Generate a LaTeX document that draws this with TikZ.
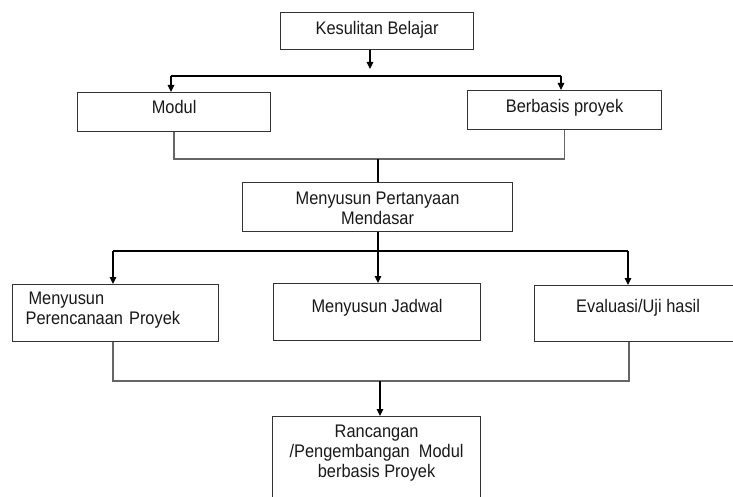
\documentclass[tikz,border=0pt]{standalone}
\usepackage{fontspec}
\setmainfont{Liberation Sans}[FakeStretch=0.9]
\usetikzlibrary{arrows.meta}
\newcommand{\topst}[1]{\rule{0pt}{#1pt}}
\newcommand{\botst}[1]{\rule[-#1pt]{0pt}{#1pt}}
\begin{document}
\begin{tikzpicture}[x=1pt,y=-1pt,
  box/.style={draw=black!80, line width=1.2pt, rectangle, inner xsep=0pt, inner ysep=0pt,
    anchor=north west, align=center, text=black!90,
    font=\fontsize{18.2}{20}\selectfont},
  ln/.style={draw=black, line width=1.1pt},
  mrg/.style={draw=black!60, line width=1.3pt},
  arr/.style={ln, -{Triangle[length=7pt,width=6.5pt]}}]
\useasboundingbox (0,0) rectangle (733,497);
\clip (0,0) rectangle (733,497);
\fill[white] (0,0) rectangle (733,497);

% boxes
\node[box, minimum width=193pt] (k) at (280,12) {\topst{22}Kesulitan Belajar\botst{15}};
\node[box, minimum width=193pt] (m) at (77,92) {\topst{21}Modul\botst{18}};
\node[box, minimum width=194pt] (b) at (467,90) {\topst{22}Berbasis proyek\botst{17}};
\node[box, minimum width=270pt] (p) at (242,182) {\topst{22}Menyusun Pertanyaan\\Mendasar\botst{7}};
\node[box, minimum width=206pt, text width=180pt, inner xsep=13pt, align=left] (r) at (12,284)
  {\topst{20}\hspace{3pt}Menyusun\\Perencanaan Proyek\botst{17}};
\node[box, minimum width=207pt] (j) at (273,283) {\topst{29}Menyusun Jadwal\botst{28}};
\node[box, minimum width=207pt] (e) at (534,285) {\topst{27}Evaluasi/Uji hasil\botst{29}};
\node[box, minimum width=208pt] (f) at (272,416)
  {\topst{21}Rancangan\\/Pengembangan~ Modul\\berbasis Proyek\botst{38}};

% level 1
\coordinate (t1) at (370,69);
\coordinate (tl) at (171,76);
\coordinate (tr) at (561,76);
\draw[arr] (k.south -| t1) -- (t1);
\draw[ln] (tl) -- (tr);
\draw[arr] (tl) -- (m.north -| tl);
\draw[arr] (tr) -- (b.north -| tr);

% merge 1
\coordinate (j1) at (378,159);
\draw[mrg] (m.south) |- (j1) -| (b.south);
\draw[ln] (j1) -- (p.north -| j1);

% level 2
\coordinate (j2) at (378,251);
\coordinate (l2) at (113,251);
\coordinate (r2) at (628,251);
\draw[ln] (p.south -| j2) -- (j2);
\draw[ln] (l2) -- (r2);
\draw[arr] (l2) -- (r.north -| l2);
\draw[arr] (j2) -- (j.north -| j2);
\draw[arr] (r2) -- (e.north -| r2);

% merge 2
\coordinate (l3) at (113,381);
\coordinate (r3) at (629,381);
\coordinate (j3) at (380,381);
\draw[mrg] (r.south -| l3) -- (l3) -- (r3) -- (e.south -| r3);
\draw[arr] (j3) -- (f.north -| j3);
\end{tikzpicture}
\end{document}
